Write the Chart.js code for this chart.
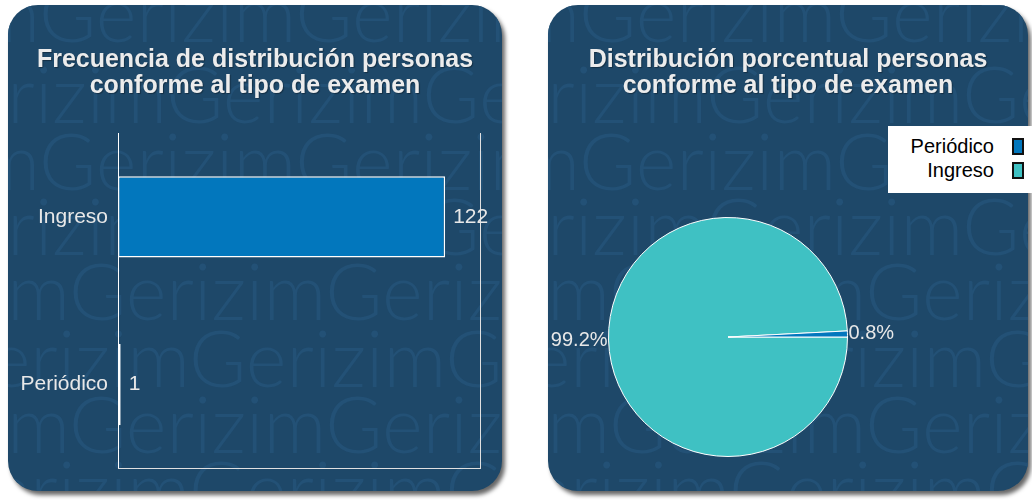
<!DOCTYPE html>
<html>
<head>
<meta charset="utf-8">
<script src="https://cdn.jsdelivr.net/npm/chart.js@4/dist/chart.umd.min.js"></script>
<style>
  html, body { margin: 0; padding: 0; background: #ffffff; width: 1032px; height: 500px; overflow: hidden; }
  .panel { position: absolute; top: 5px; height: 486px; border-radius: 30px; background: #1e4869;
           box-shadow: 3px 4px 4px rgba(0, 0, 0, 0.6); overflow: hidden; }
  #leftPanel { left: 8px; width: 494px; }
  #rightPanel { left: 548px; width: 480px; }
  .panel canvas { position: absolute; left: 0; top: 0; display: block; }
  .panel-title { position: absolute; left: 0; right: 0; top: 40px; text-align: center;
                 font: bold 25px/26px "Liberation Sans", Arial, sans-serif; color: #ececec;
                 text-shadow: 1px 1px 1px rgba(0, 0, 0, 0.35); }
  #pieLegend { position: absolute; left: 888px; top: 126px; width: 150px; height: 67px; background: #ffffff;
               box-sizing: border-box; padding-top: 8px; padding-right: 14px;
               font: 20px "Liberation Sans", Arial, sans-serif; color: #000000; }
  .legend-row { display: flex; justify-content: flex-end; align-items: center; height: 24px; }
  .legend-box { width: 12px; height: 17px; border: 2px solid #111111; box-sizing: border-box; margin-left: 18px; }
</style>
</head>
<body>
<div class="panel" id="leftPanel">
  <canvas id="barChart" width="494" height="486"></canvas>
  <div class="panel-title" id="barTitle"></div>
</div>
<div class="panel" id="rightPanel">
  <canvas id="pieChart" width="480" height="486"></canvas>
  <div class="panel-title" id="pieTitle"></div>
</div>
<div id="pieLegend"></div>

<script>
// chart data
const categories = ["Ingreso", "Periódico"];
const counts = [122, 1];
const barColor = "#0277bd";
const pieColors = ["#3fc1c3", "#0277bd"];
const barTitleLines = ["Frecuencia de distribución personas", "conforme al tipo de examen"];
const pieTitleLines = ["Distribución porcentual personas", "conforme al tipo de examen"];
const countAxisMax = 135;

Chart.defaults.font.family = '"Liberation Sans", Arial, sans-serif';

// titles
document.getElementById("barTitle").innerHTML = barTitleLines.join("<br>");
document.getElementById("pieTitle").innerHTML = pieTitleLines.join("<br>");

// legend (listed bottom slice first, like the original)
const legendEl = document.getElementById("pieLegend");
categories.slice().reverse().forEach(function (name) {
  const i = categories.indexOf(name);
  const row = document.createElement("div");
  row.className = "legend-row";
  const txt = document.createElement("span");
  txt.textContent = name;
  const box = document.createElement("span");
  box.className = "legend-box";
  box.style.background = pieColors[i];
  row.appendChild(txt);
  row.appendChild(box);
  legendEl.appendChild(row);
});

// background "Gerizim" watermark rows: [baseline, x of first G]
const wmRows = [[37, 32], [118, 159], [185, 32], [250, 159], [315, 62], [382, 182], [448, 62], [513, 182]];
const watermark = {
  id: "watermark",
  beforeDraw(chart) {
    const ctx = chart.ctx;
    ctx.save();
    ctx.font = '300 78px Lato, "DejaVu Sans", sans-serif';
    ctx.fillStyle = "#235176";
    const word = "Gerizim";
    const w = ctx.measureText(word).width;
    wmRows.forEach(function (r) {
      ctx.fillText(word.repeat(4), r[1] - w, r[0]);
    });
    ctx.restore();
  }
};

// value labels after the bars
const barValues = {
  id: "barValues",
  afterDatasetsDraw(chart) {
    const ctx = chart.ctx;
    const meta = chart.getDatasetMeta(0);
    const data = chart.data.datasets[0].data;
    ctx.save();
    ctx.font = '21px "Liberation Sans", Arial, sans-serif';
    ctx.fillStyle = "#e8e8e8";
    ctx.textAlign = "left";
    ctx.textBaseline = "middle";
    meta.data.forEach(function (bar, i) {
      ctx.fillText(String(data[i]), bar.x + 8, bar.y);
    });
    ctx.restore();
  }
};

// percentage labels just outside the pie
const pieLabels = {
  id: "pieLabels",
  afterDatasetsDraw(chart) {
    const ctx = chart.ctx;
    const meta = chart.getDatasetMeta(0);
    const data = chart.data.datasets[0].data;
    const total = data.reduce((a, b) => a + b, 0);
    ctx.save();
    ctx.font = '20px "Liberation Sans", Arial, sans-serif';
    ctx.fillStyle = "#e8e8e8";
    ctx.textBaseline = "middle";
    meta.data.forEach(function (arc, i) {
      const p = arc.getProps(["x", "y", "startAngle", "endAngle", "outerRadius"], true);
      const mid = (p.startAngle + p.endAngle) / 2;
      const r = p.outerRadius + 1;
      ctx.textAlign = Math.cos(mid) < 0 ? "right" : "left";
      ctx.fillText((data[i] / total * 100).toFixed(1) + "%", p.x + r * Math.cos(mid), p.y + r * Math.sin(mid));
    });
    ctx.restore();
  }
};

// bar chart
new Chart(document.getElementById("barChart"), {
  type: "bar",
  data: {
    labels: categories,
    datasets: [{
      data: counts,
      backgroundColor: barColor,
      borderColor: "#ffffff",
      borderWidth: 1.5,
      borderSkipped: false,
      barPercentage: 0.485,
      categoryPercentage: 1
    }]
  },
  options: {
    indexAxis: "y",
    responsive: false,
    animation: false,
    layout: { padding: { top: 128, left: 0, right: 0, bottom: 0 } },
    plugins: { legend: { display: false }, tooltip: { enabled: false } },
    scales: {
      y: {
        grid: { display: false, drawTicks: false },
        border: { color: "#ffffff" },
        ticks: { color: "#e8e8e8", font: { size: 21 }, padding: 10 },
        afterFit: function (s) { s.width = 110; }
      },
      y2: {
        type: "category",
        labels: categories,
        position: "right",
        grid: { display: false, drawTicks: false },
        border: { color: "#e0e0e0" },
        ticks: { display: false },
        afterFit: function (s) { s.width = 22; }
      },
      x: {
        min: 0,
        max: countAxisMax,
        grid: { display: false, drawTicks: false },
        border: { color: "#e0e0e0" },
        ticks: { display: false },
        afterFit: function (s) { s.height = 14; }
      }
    }
  },
  plugins: [watermark, barValues]
});

// pie chart (starts at 3 o'clock)
new Chart(document.getElementById("pieChart"), {
  type: "pie",
  data: {
    labels: categories,
    datasets: [{
      data: counts,
      backgroundColor: pieColors,
      borderColor: "#ffffff",
      borderWidth: 1
    }]
  },
  options: {
    responsive: false,
    animation: false,
    rotation: 90,
    layout: { padding: { left: 60, right: 180, top: 212, bottom: 34 } },
    plugins: { legend: { display: false }, tooltip: { enabled: false } }
  },
  plugins: [watermark, pieLabels]
});
</script>
</body>
</html>
